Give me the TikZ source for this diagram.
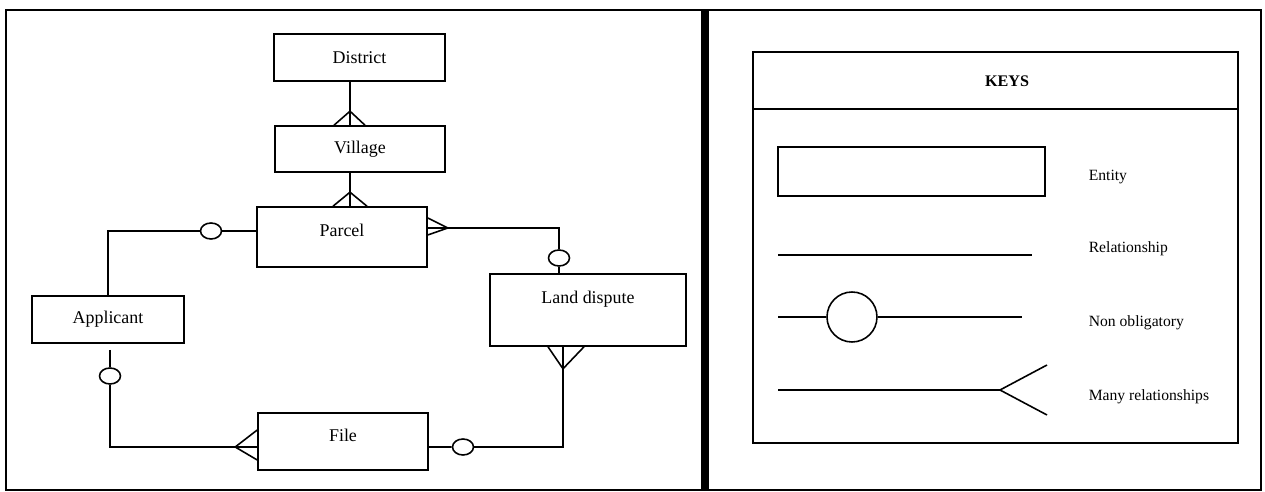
\documentclass[tikz,border=0pt]{standalone}
\usepackage{fontspec}
\setmainfont{Liberation Serif}
\usetikzlibrary{shapes.geometric,calc}

\tikzset{
  entity/.style={draw,rectangle,inner sep=0pt,font=\fontsize{10.2}{12}\selectfont},
  optional/.style={draw,ellipse,inner sep=0pt,minimum width=0.42cm,minimum height=0.32cm},
  keytext/.style={anchor=west,inner sep=0pt,font=\fontsize{8.9}{10}\selectfont},
}

\begin{document}
\begin{tikzpicture}[x=0.02cm,y=-0.02cm,line width=0.9pt]

      \useasboundingbox (0,0) rectangle (1265,492);
      \draw (6,10) rectangle (1261,490);
      \draw[line width=5pt] (705,10) -- (705,490);

      \begin{scope}[every node/.style={entity}]
        \node[minimum width=3.42cm,minimum height=0.94cm] (district) at (359.5,57.5) {District};
        \node[minimum width=3.40cm,minimum height=0.92cm] (village)  at (360,149)    {Village};
        \node[minimum width=3.40cm,minimum height=1.20cm,text depth=8pt] (parcel) at (342,237) {Parcel};
        \node[minimum width=3.04cm,minimum height=0.94cm] (applicant) at (108,319.5) {Applicant};
        \node[minimum width=3.92cm,minimum height=1.44cm,text depth=14.8pt] (dispute) at (588,310) {Land dispute};
        \node[minimum width=3.40cm,minimum height=1.14cm,text depth=7.4pt] (file) at (343,441.5) {File};
      \end{scope}

      \begin{scope}[every node/.style={optional}]
        \node (o1) at (211,231) {};
        \node (o2) at (110,376) {};
        \node (o3) at (559,258) {};
        \node (o4) at (463,447) {};
      \end{scope}

      % district -- village
      \draw ($(district.south)+(-9.5,0)$) -- ($(village.north)+(-10,0)$);
      \draw ($(village.north)+(-26,0)$) -- ($(village.north)+(-10,-14)$) -- ($(village.north)+(5,0)$);

      % village -- parcel
      \draw ($(village.south)+(-10,0)$) -- ($(parcel.north)+(8,0)$);
      \draw ($(parcel.north)+(-9,0)$) -- ($(parcel.north)+(8,-14)$) -- ($(parcel.north)+(25,0)$);

      % parcel -- applicant
      \draw ($(parcel.west)+(0,-6)$) -- (o1) -| (applicant.north);

      % applicant -- file
      \coordinate (filefoot) at ($(file.west)+(-22,5.5)$);
      \draw ($(applicant.south)+(2,6)$) -- (o2);
      \draw (o2) |- (filefoot) -- ($(file.west)+(0,5.5)$);
      \draw ($(file.west)+(0,-11.5)$) -- (filefoot) -- ($(file.west)+(0,18.5)$);

      % parcel -- land dispute
      \coordinate (parcelfoot) at ($(parcel.east)+(20,-9)$);
      \draw ($(parcel.east)+(0,-9)$) -- (parcelfoot) -| (o3);
      \draw ($(parcel.east)+(0,-19)$) -- (parcelfoot) -- ($(parcel.east)+(0,-2)$);
      \draw (o3) -- ($(dispute.north)+(-29,0)$);

      % land dispute -- file
      \coordinate (disputefoot) at ($(dispute.south)+(-25,22)$);
      \draw ($(dispute.south)+(-25,0)$) -- (disputefoot) |- (o4);
      \draw ($(dispute.south)+(-40,0)$) -- (disputefoot) -- ($(dispute.south)+(-4,0)$);
      \draw (o4) -- ($(file.east)+(0,5.5)$);

      % keys
      \draw (753,52) rectangle (1238,443);
      \draw (753,109) -- (1238,109);
      \node[font=\fontsize{9.2}{11}\selectfont\bfseries] (keys) at (1007,81) {KEYS};

      \node[entity,minimum width=5.34cm,minimum height=0.98cm] (keyentity) at (911.5,171.5) {};
      \node[keytext] (lentity) at (1088,177) {Entity};

      \coordinate (rel1) at (778,255);
      \coordinate (rel2) at (1032,255);
      \draw (rel1) -- (rel2);
      \node[keytext] (lrel) at (1088,249) {Relationship};

      \node[draw,circle,inner sep=0pt,minimum size=1cm] (keyopt) at (852,317) {};
      \coordinate (opt1) at (778,317);
      \coordinate (opt2) at (1022,317);
      \draw (opt1) -- (keyopt) -- (opt2);
      \node[keytext] (lopt) at (1088,323) {Non obligatory};

      \coordinate (many1) at (778,390);
      \coordinate (many2) at (1000,390);
      \coordinate (many3) at (1047,365);
      \coordinate (many4) at (1047,415);
      \draw (many1) -- (many2) -- (many3);
      \draw (many2) -- (many4);
      \node[keytext] (lmany) at (1088,397) {Many relationships};

    \end{tikzpicture}
\end{document}
